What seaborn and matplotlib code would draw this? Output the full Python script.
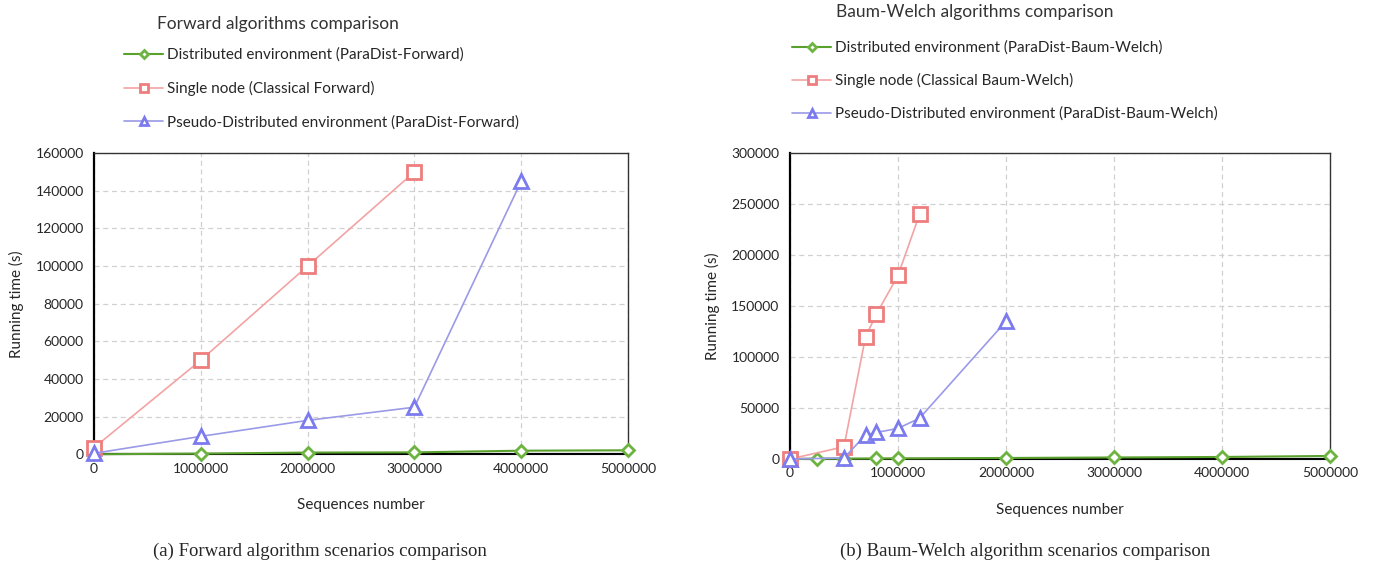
import matplotlib
matplotlib.use("Agg")
import matplotlib.pyplot as plt
import seaborn as sns

sns.set_style("white")
plt.rcParams["font.family"] = ["Lato", "DejaVu Sans"]

# Forward algorithm data
fw_x = [0, 1000000, 2000000, 3000000, 4000000, 5000000]
fw_dist = [0, 350, 900, 1000, 1900, 2100]
fw_single_x = [0, 1000000, 2000000, 3000000]
fw_single = [3500, 50000, 100000, 150000]
fw_pseudo_x = [0, 1000000, 2000000, 3000000, 4000000]
fw_pseudo = [500, 9500, 18000, 25000, 145000]

# Baum-Welch data
bw_dist_x = [0, 250000, 500000, 800000, 1000000, 2000000, 3000000, 4000000, 5000000]
bw_dist = [0, 200, 300, 500, 600, 1000, 1500, 2000, 3000]
bw_single_x = [0, 500000, 700000, 800000, 1000000, 1200000]
bw_single = [0, 12000, 120000, 142000, 180000, 240000]
bw_pseudo_x = [0, 500000, 700000, 800000, 1000000, 1200000, 2000000]
bw_pseudo = [0, 1000, 23500, 26000, 30000, 40000, 135000]

fw_labels = ["Distributed environment (ParaDist-Forward)",
             "Single node (Classical Forward)",
             "Pseudo-Distributed environment (ParaDist-Forward)"]
bw_labels = ["Distributed environment (ParaDist-Baum-Welch)",
             "Single node (Classical Baum-Welch)",
             "Pseudo-Distributed environment (ParaDist-Baum-Welch)"]

green_line, green_mk = "#5aa02c", "#6db33f"
red_line, red_mk = "#f3a3a3", "#ee7d7d"
blue_line, blue_mk = "#9a9ae8", "#7b7bef"

fig = plt.figure(figsize=(13.75, 5.65), dpi=100)
ax1 = fig.add_axes([0.0684, 0.196, 0.3883, 0.533])
ax2 = fig.add_axes([0.5745, 0.1876, 0.3928, 0.5414])


def draw(ax, series, labels, ymax, ystep):
    styles = [("D", green_line, green_mk, 6.5, 1.5),
              ("s", red_line, red_mk, 10, 1.2),
              ("^", blue_line, blue_mk, 10, 1.2)]
    for (xs, ys), lab, (m, lc, mc, ms, lw) in zip(series, labels, styles):
        sns.lineplot(x=xs, y=ys, ax=ax, color=lc, lw=lw, marker=m,
                     markersize=ms, markerfacecolor="white",
                     markeredgecolor=mc, markeredgewidth=2,
                     sort=False, estimator=None, label=lab, clip_on=False,
                     zorder=3)
    ax.set_xlim(0, 5000000)
    ax.set_ylim(0, ymax)
    ax.set_xticks(range(0, 5000001, 1000000))
    ax.set_xticklabels([str(v) for v in range(0, 5000001, 1000000)])
    ax.set_yticks(range(0, ymax + 1, ystep))
    ax.set_yticklabels([str(v) for v in range(0, ymax + 1, ystep)])
    ax.grid(True, color="#d0d0d0", ls=(0, (4, 3)), lw=0.9)
    ax.axhline(0, color="black", lw=1.6, zorder=2)
    for s in ["top", "right"]:
        ax.spines[s].set_color("#333333")
        ax.spines[s].set_linewidth(1.0)
    ax.spines["left"].set_color("black")
    ax.spines["left"].set_linewidth(1.6)
    ax.spines["bottom"].set_color("black")
    ax.tick_params(axis="y", direction="inout", length=7, width=1,
                   labelsize=10, pad=4)
    ax.tick_params(axis="x", length=0, labelsize=10, pad=6)
    ax.set_xlabel("Sequences number", fontsize=11, labelpad=17)
    ax.set_ylabel("Running time (s)", fontsize=11, labelpad=8)


draw(ax1, [(fw_x, fw_dist), (fw_single_x, fw_single), (fw_pseudo_x, fw_pseudo)],
     fw_labels, 160000, 20000)
draw(ax2, [(bw_dist_x, bw_dist), (bw_single_x, bw_single), (bw_pseudo_x, bw_pseudo)],
     bw_labels, 300000, 50000)

# titles and legends above each plot
fig.text(157 / 1375, 1 - 24 / 565, "Forward algorithms comparison",
         fontsize=12.5, color="#333333", va="center", ha="left")
fig.text(836 / 1375, 1 - 12 / 565, "Baum-Welch algorithms comparison",
         fontsize=12.5, color="#333333", va="center", ha="left")

ax1.legend(loc="upper left", bbox_to_anchor=(110 / 1375, 1 - 34 / 565),
           bbox_transform=fig.transFigure, frameon=False, fontsize=11,
           handlelength=2.6, handletextpad=0.2, labelspacing=1.25,
           markerscale=0.6)
ax2.legend(loc="upper left", bbox_to_anchor=(778 / 1375, 1 - 27 / 565),
           bbox_transform=fig.transFigure, frameon=False, fontsize=11,
           handlelength=2.6, handletextpad=0.2, labelspacing=1.2,
           markerscale=0.6)

# captions
fig.text(320 / 1375, 1 - 551 / 565, "(a) Forward algorithm scenarios comparison",
         family=["Liberation Serif", "DejaVu Serif"], fontsize=13.5,
         ha="center", va="center")
fig.text(1025 / 1375, 1 - 551 / 565, "(b) Baum-Welch algorithm scenarios comparison",
         family=["Liberation Serif", "DejaVu Serif"], fontsize=13.5,
         ha="center", va="center")

fig.savefig("out.png", dpi=100)
